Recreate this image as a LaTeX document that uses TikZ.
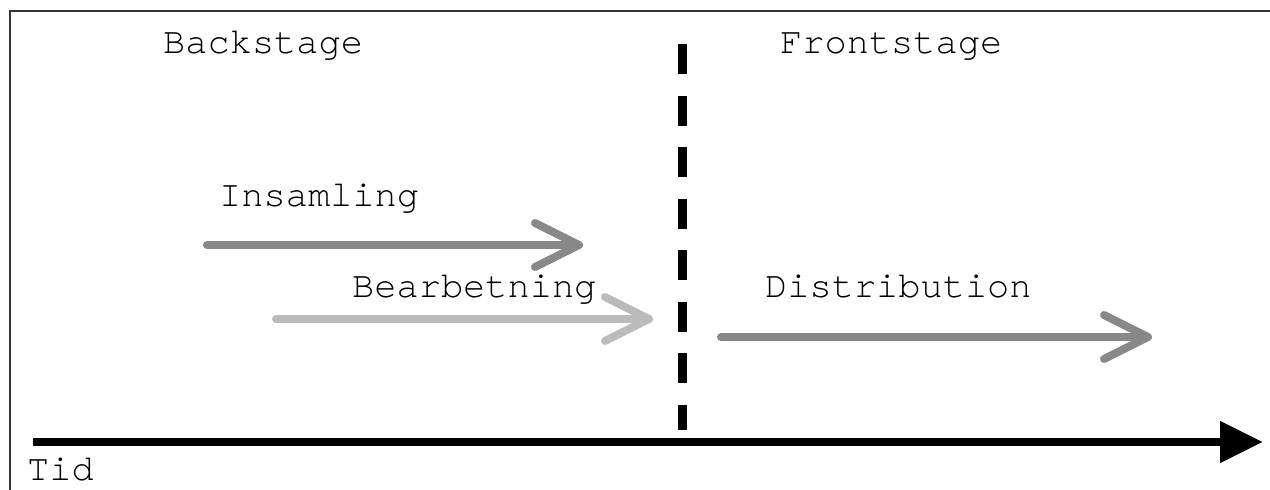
\documentclass[tikz,border=0pt]{standalone}
\usepackage{fontspec}
\setmainfont{texgyrecursor-regular.otf}
\usepackage{xcolor}
\usepackage{tikz}
\usetikzlibrary{arrows.meta}
\definecolor{darkgrey}{HTML}{888888}
\definecolor{lightgrey}{HTML}{BBBBBB}
\tikzstyle{label} = [anchor=base west, inner sep=0pt, font=\fontsize{37}{40}\selectfont]
\tikzstyle{phase} = [line width=8pt, line cap=round, -{Straight Barb[length=44pt, width=44pt, round]}]
\tikzstyle{time} = [line width=8pt, black, -{Triangle[length=43pt, width=40pt]}]
\tikzstyle{border} = [line width=2pt, black!80]

\begin{document}
\begin{tikzpicture}[x=1pt, y=-1pt]
	\useasboundingbox (0,0) rectangle (1270,490);
	\draw [border] (10,490) -- (10,11) -- (1270,11);

	\node (back) [label] at (163,53) {Backstage};
	\node (front) [label] at (780,53) {Frontstage};
	\node (insamling) [label] at (219,206) {Insamling};
	\node (bearbetning) [label] at (352,297) {Bearbetning};
	\node (distribution) [label] at (765,297) {Distribution};
	\node (tid) [label] at (27,480) {Tid};

	\coordinate (ins start) at (207,245);
	\coordinate (ins end) at (583,245);
	\coordinate (bea start) at (276,319);
	\coordinate (bea end) at (653,319);
	\coordinate (dis start) at (721,337);
	\coordinate (dis end) at (1152,337);
	\coordinate (time start) at (33,442);
	\coordinate (time end) at (1263,442);
	\coordinate (split top) at (682.5,44);
	\coordinate (split bottom) at (682.5,430);

	\draw [line width=9pt, dash pattern=on 30pt off 21.5pt] (split top) -- (split bottom);
	\draw [phase, darkgrey] (ins start) -- (ins end){};
	\draw [phase, lightgrey] (bea start) -- (bea end){};
	\draw [phase, darkgrey] (dis start) -- (dis end){};
	\draw [time] (time start) -- (time end){};

\end{tikzpicture}
\end{document}
